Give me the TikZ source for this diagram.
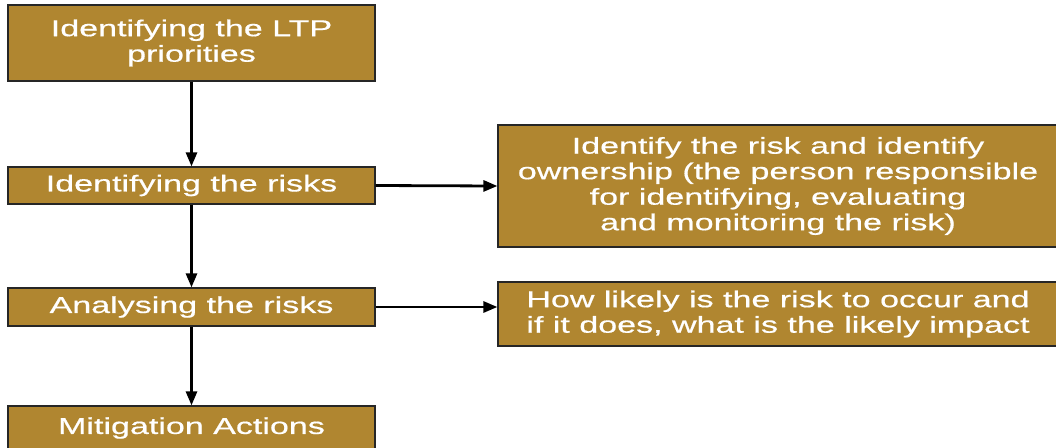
\documentclass[tikz,border=0pt]{standalone}
\usepackage{fontspec}
\setmainfont{Liberation Sans}
\newfontfamily\widefont[FakeStretch=1.48,FakeBold=0.6]{Liberation Sans}
\usetikzlibrary{arrows.meta}
\definecolor{boxfill}{HTML}{B08630}
\begin{document}
\begin{tikzpicture}[x=1pt,y=-1pt,
  box/.style={draw=black!85, line width=1.2pt, fill=boxfill, text=white, inner sep=0pt, align=center,
    font=\widefont\fontsize{23}{25.5}\selectfont},
  conn/.style={line width=2.8pt, -{Triangle[length=14pt,width=11pt]}}]
\clip (0,0) rectangle (1056,447);
\fill[white] (0,0) rectangle (1056,447);
\node[box, minimum width=367pt, minimum height=76pt] (b1) at (191.5,43) {Identifying the LTP\\priorities};
\node[box, minimum width=367pt, minimum height=37pt] (b2) at (191.5,185.5) {Identifying the risks};
\node[box, minimum width=560pt, minimum height=122pt] (b3) at (778,186) {Identify the risk and identify\\ownership (the person responsible\\for identifying, evaluating\\and monitoring the risk)};
\node[box, minimum width=367pt, minimum height=38pt] (b4) at (191.5,307) {Analysing the risks};
\node[box, minimum width=560pt, minimum height=64pt] (b5) at (778,314) {How likely is the risk to occur and\\if it does, what is the likely impact};
\node[box, minimum width=367pt, minimum height=44pt] (b6) at (191.5,428) {Mitigation Actions};
\draw[conn] (b1.south) -- (b2.north);
\draw[conn] (b2.south) -- (b4.north);
\draw[conn] (b4.south) -- (b6.north);
\draw[conn] (b2.east) -- (b3.west);
\draw[conn] (b4.east) -- (b4.east -| b5.west);
\end{tikzpicture}
\end{document}
